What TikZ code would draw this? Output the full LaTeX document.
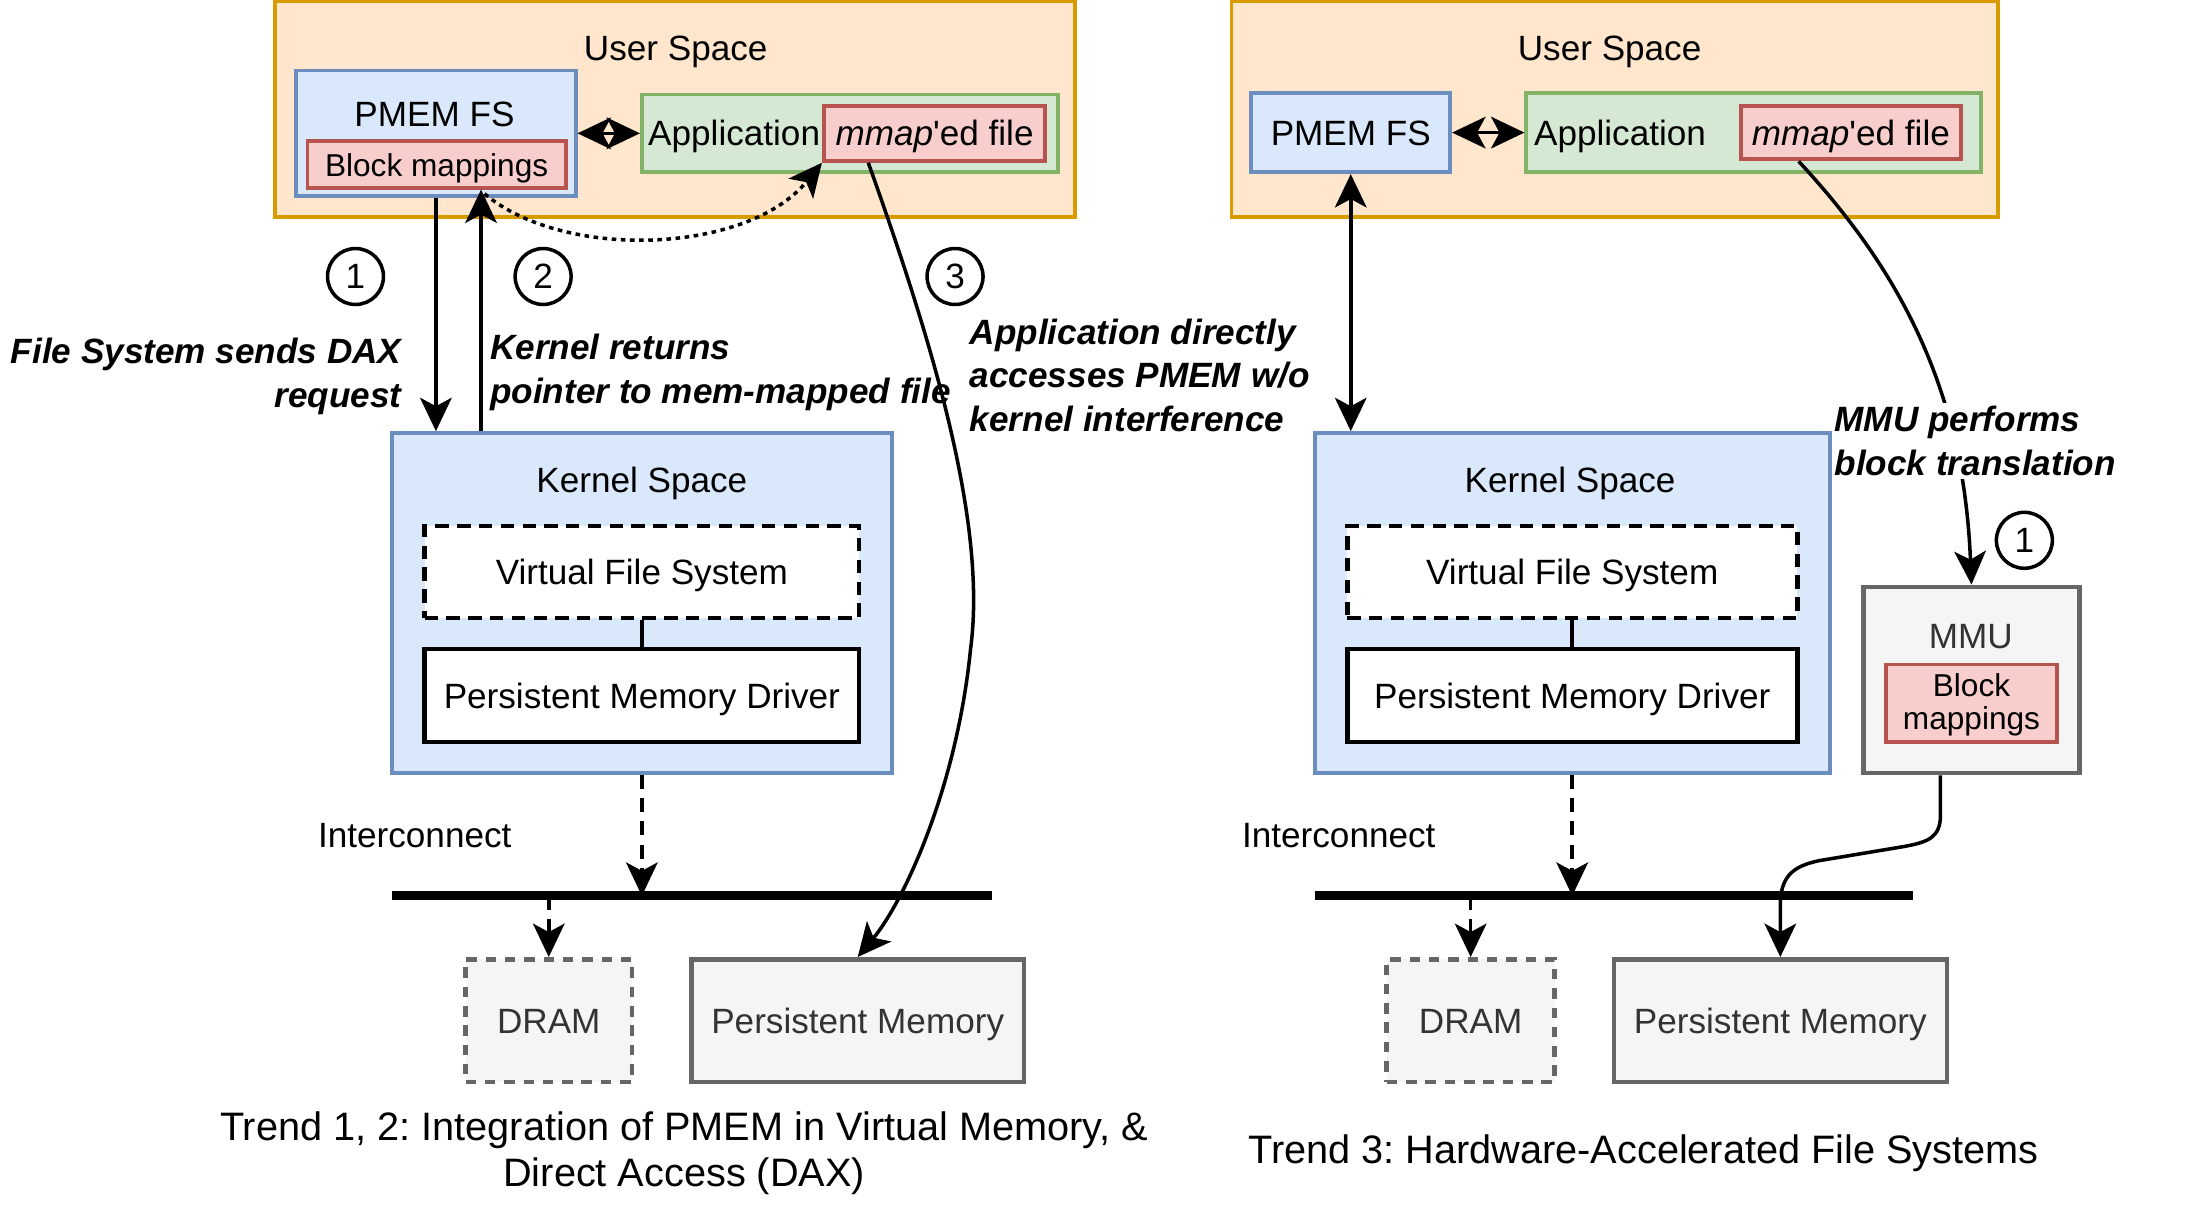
\documentclass[tikz,border=0pt]{standalone}
\usepackage{fontspec}
\setmainfont{Liberation Sans}[Ligatures=TeXOff]
\usetikzlibrary{arrows.meta,fit,calc}
\frenchspacing
\definecolor{usfill}{HTML}{FFE6CC}
\definecolor{usline}{HTML}{D79B00}
\definecolor{bfill}{HTML}{DAE8FC}
\definecolor{bline}{HTML}{6C8EBF}
\definecolor{rfill}{HTML}{F8CECC}
\definecolor{rline}{HTML}{B85450}
\definecolor{gfill}{HTML}{D5E8D4}
\definecolor{gline}{HTML}{82B366}
\definecolor{hwfill}{HTML}{F5F5F5}
\definecolor{hwline}{HTML}{666666}
\definecolor{hwtext}{HTML}{333333}
\tikzset{
  boxbase/.style={inner sep=0pt, line width=1.1pt},
  userbox/.style={boxbase, fill=usfill, draw=usline},
  bluebox/.style={boxbase, fill=bfill, draw=bline},
  redbox/.style={boxbase, fill=rfill, draw=rline},
  greenbox/.style={boxbase, fill=gfill, draw=gline},
  vfsbox/.style={boxbase, fill=white, draw=black, line width=1.3pt, dash pattern=on 3.8pt off 2.4pt},
  drvbox/.style={boxbase, fill=white, draw=black, line width=1.3pt},
  hwbox/.style={boxbase, fill=hwfill, draw=hwline, line width=1.3pt},
  dramboxst/.style={hwbox, dash pattern=on 3pt off 2.5pt},
  txt/.style={inner sep=0pt, font=\fontsize{10}{12}\selectfont, text height=0.73em, text depth=0.21em, yshift=-1pt},
  smalltxt/.style={inner sep=0pt, font=\fontsize{9}{9.4}\selectfont, text height=0.73em, text depth=0.21em, yshift=-0.9pt},
  smallml/.style={inner sep=0pt, font=\fontsize{9}{9.4}\selectfont, yshift=-0.5pt},
  hwtxt/.style={txt, text=hwtext},
  lbl/.style={inner sep=0pt, font=\fontsize{10}{12.4}\selectfont\bfseries\itshape},
  captxt/.style={inner sep=0pt, align=center, font=\fontsize{11.3}{13.25}\selectfont, yshift=-1pt},
  numc/.style={circle, draw=black, line width=1pt, minimum size=0.56cm, inner sep=0pt, font=\fontsize{10}{12}\selectfont},
  conn/.style={line width=1pt, -{Stealth[length=9.5pt,width=9pt,inset=2.4pt]}},
  dconn/.style={line width=1pt, {Stealth[length=9.5pt,width=9pt,inset=2.4pt]}-{Stealth[length=9.5pt,width=9pt,inset=2.4pt]}},
  dashconn/.style={conn, dash pattern=on 4pt off 2.6pt},
  dotconn/.style={conn, dash pattern=on 1.3pt off 1.3pt},
  busline/.style={line width=2.6pt},
  plainline/.style={line width=1pt},
}
\begin{document}
\begin{tikzpicture}[x=0.014107cm,y=-0.014107cm]
\useasboundingbox (0,0) rectangle (1568,859);

% ---------------- Left panel ----------------
\node[userbox, fit={(195,1)(762,154)}] (us1) {};
\node[txt] (us1t) at (479,34) {User Space};
\node[bluebox, fit={(210,50)(408,139)}] (pfs1) {};
\node[txt] (pfs1t) at (308,81) {PMEM FS};
\node[redbox, fit={(218,100)(401,133)}] (bm1) {};
\node[smalltxt] (bm1t) at (bm1) {Block mappings};
\node[greenbox, fit={(455,67)(750,122)}] (app1) {};
\node[txt, anchor=west] (app1t) at (459,94) {Application};
\node[redbox, fit={(584,75)(741,114)}] (mm1) {};
\node[txt] (mm1t) at (mm1) {\textit{mmap}'ed file};

\node[bluebox, fit={(278,307)(632,548)}] (ks1) {};
\node[txt] (ks1t) at (455,340) {Kernel Space};
\node[vfsbox, fit={(301,373)(609,438)}] (vfs1) {};
\node[txt] (vfs1t) at (vfs1) {Virtual File System};
\node[drvbox, fit={(301,460)(609,526)}] (pmd1) {};
\node[txt] (pmd1t) at (pmd1) {Persistent Memory Driver};

\coordinate (bus1w) at (278,635);
\coordinate (bus1e) at (703,635);
\node[txt] (ic1) at (294,592) {Interconnect};
\node[dramboxst, fit={(330,680)(448,767)}] (dram1) {};
\node[hwtxt] (dram1t) at (dram1) {DRAM};
\node[hwbox, fit={(490,680)(726,767)}] (pm1) {};
\node[hwtxt] (pm1t) at (pm1) {Persistent Memory};

\node[numc] (n1) at (252,196) {1};
\node[numc] (n2) at (385,196) {2};
\node[numc] (n3) at (677,196) {3};

\node[lbl, align=right, anchor=east, yshift=-1pt] (l1) at (285,264.5) {File System sends DAX\\request};
\node[lbl, align=left, anchor=west, yshift=-1pt] (l2) at (347,261.5) {Kernel returns\\pointer to mem-mapped file};
\node[lbl, align=left, anchor=west] (l3) at (687,266) {Application directly\\accesses PMEM w/o\\kernel interference};

\draw[dconn] (pfs1.east) -- (app1.west);
\draw[conn] (pfs1.south) -- (pfs1.south |- ks1.north);
\coordinate (up1) at ($(bm1.south)+(31.5,0)$);
\draw[conn] (up1 |- ks1.north) -- (up1);
\draw[dotconn] ($(bm1.south)+(34,3)$) .. controls (400,185) and (530,180) .. (mm1.south west);
\draw[conn] ($(mm1.south)+(-47,0)$) .. controls (660,240) and (700,370) .. (688,460) .. controls (678,560) and (640,640) .. (pm1.north);
\draw[plainline] (vfs1.south) -- (pmd1.north);
\draw[dashconn] (ks1.south) -- (ks1.south |- bus1w);
\draw[dashconn] (dram1.north |- bus1w) -- (dram1.north);
\draw[busline] (bus1w) -- (bus1e);

\node[captxt] (cap1) at (485,815) {Trend 1, 2: Integration of PMEM in Virtual Memory, \&\\Direct Access (DAX)};

% ---------------- Right panel ----------------
\node[userbox, fit={(873,1)(1416,154)}] (us2) {};
\node[txt] (us2t) at (1141,34) {User Space};
\node[bluebox, fit={(887,66)(1028,122)}] (pfs2) {};
\node[txt] (pfs2t) at (pfs2) {PMEM FS};
\node[greenbox, fit={(1082,66)(1404,122)}] (app2) {};
\node[txt, anchor=west] (app2t) at (1087,94) {Application};
\node[redbox, fit={(1234,75)(1390,113)}] (mm2) {};
\node[txt] (mm2t) at (mm2) {\textit{mmap}'ed file};

\node[bluebox, fit={(932,307)(1297,548)}] (ks2) {};
\node[txt] (ks2t) at (1113,340) {Kernel Space};
\node[vfsbox, fit={(955,373)(1274,438)}] (vfs2) {};
\node[txt] (vfs2t) at (vfs2) {Virtual File System};
\node[drvbox, fit={(955,460)(1274,526)}] (pmd2) {};
\node[txt] (pmd2t) at (pmd2) {Persistent Memory Driver};

\node[hwbox, fit={(1321,416)(1474,548)}] (mmu) {};
\node[hwtxt] (mmut) at (1397,451) {MMU};
\node[redbox, fit={(1337,471)(1458,526)}] (bm2) {};
\node[smallml, align=center] (bm2t) at (bm2) {Block\\mappings};

\coordinate (bus2w) at (932,635);
\coordinate (bus2e) at (1356,635);
\node[txt] (ic2) at (949,592) {Interconnect};
\node[dramboxst, fit={(983,680)(1102,767)}] (dram2) {};
\node[hwtxt] (dram2t) at (dram2) {DRAM};
\node[hwbox, fit={(1144,680)(1380,767)}] (pm2) {};
\node[hwtxt] (pm2t) at (pm2) {Persistent Memory};

\node[numc] (n4) at (1435,383) {1};

\draw[dconn] (pfs2.east) -- (app2.west);
\draw[dconn] (pfs2.south) -- (pfs2.south |- ks2.north);
\draw[conn] ($(mm2.south)+(-37,0)$) .. controls (1350,195) and (1392,280) .. (mmu.north);
\node[lbl, align=left, anchor=west, fill=white, inner ysep=1pt] (l4) at (1300,312.5) {MMU performs\\block translation};
\draw[conn] ($(mmu.south)+(-22,0)$) -- (1375.5,578) .. controls (1375.5,594) and (1366,597) .. (1350,600) -- (1290,610) .. controls (1270,614) and (1262,622) .. (1262,642) -- (pm2.north);
\draw[plainline] (vfs2.south) -- (pmd2.north);
\draw[dashconn] (ks2.south) -- (ks2.south |- bus2w);
\draw[dashconn] (dram2.north |- bus2w) -- (dram2.north);
\draw[busline] (bus2w) -- (bus2e);

\node[captxt] (cap2) at (1165,815) {Trend 3: Hardware-Accelerated File Systems};
\end{tikzpicture}
\end{document}
